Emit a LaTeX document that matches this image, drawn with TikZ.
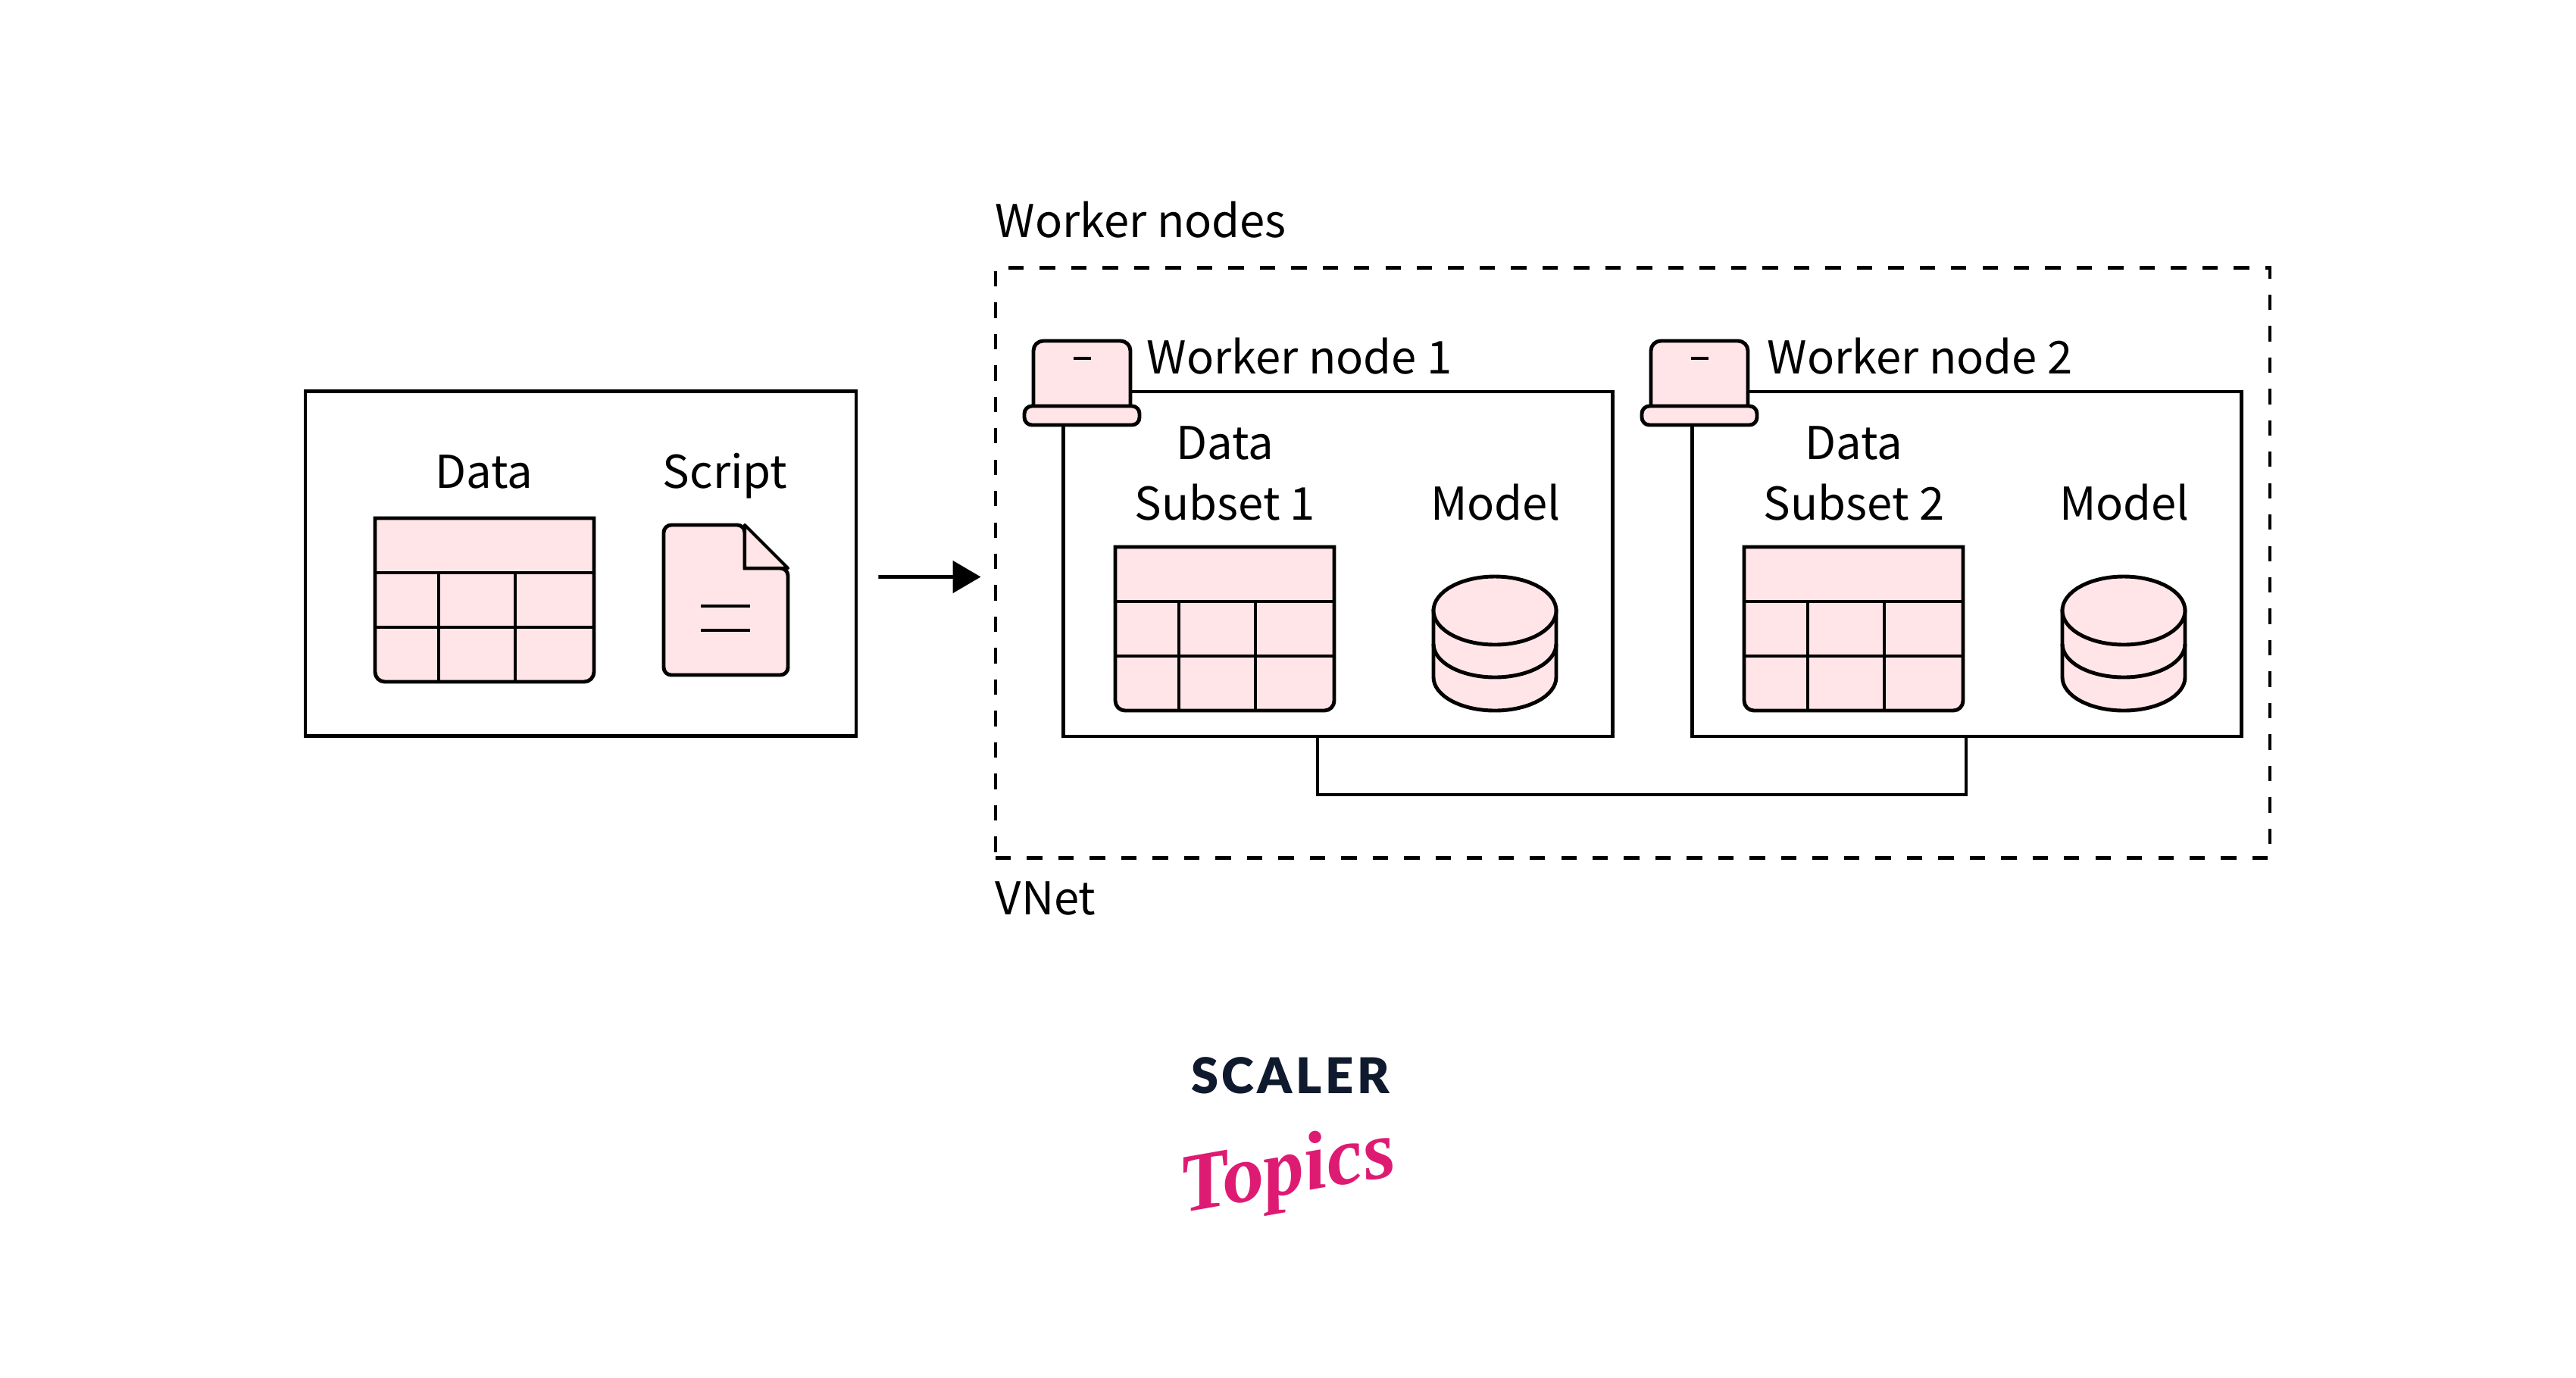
\documentclass[tikz,border=0pt]{standalone}
\usepackage{fontspec}
\setmainfont{Noto Sans CJK JP}
\newfontfamily\logofont[LetterSpace=7,BoldFont={Lato Black}]{Lato}
\newfontfamily\topicsfont{Liberation Serif}
\usetikzlibrary{arrows.meta}
\definecolor{iconpink}{HTML}{FFE5E7}
\definecolor{logonavy}{HTML}{0F1A2E}
\definecolor{logopink}{HTML}{DE1B73}
\tikzset{
  panel/.style={draw=black, line width=1.4pt, inner sep=0pt},
  icon/.style={draw=black, fill=iconpink, line width=1.4pt},
  gridline/.style={draw=black, line width=1.3pt},
  label/.style={font=\fontsize{17}{17}\selectfont, inner sep=0pt},
}
\begin{document}
\begin{tikzpicture}[y=-1cm]
  \useasboundingbox (0,0) rectangle (34,18.18);
  \fill [white] (0,0) rectangle (34,18.18);

  \node (input) [panel, minimum width=7.27cm, minimum height=4.55cm] at (7.665,7.44) {};
  \node (vnet) [panel, dash pattern=on 5.8pt off 6pt, minimum width=16.82cm, minimum height=7.79cm] at (21.55,7.43) {};
  \draw [line width=1.4pt, -{Triangle[length=.37cm,width=.42cm]}, shorten <=.27cm, shorten >=.17cm]
    ([yshift=-.175cm]input.east) -- ([yshift=-.185cm]vnet.west);

  \foreach \bx / \lx / \tx / \n in {0/0/0/1, 8.3/8.15/8.19/2} {
    \node (wbox\n) [panel, minimum width=7.25cm, minimum height=4.55cm] at (17.66+\bx,7.445) {};
    % laptop
    \draw [icon, rounded corners=.13cm] (13.64+\lx,5.36) -- (13.64+\lx,4.5) -- (14.92+\lx,4.5) -- (14.92+\lx,5.36);
    \draw [icon, rounded corners=.1cm] (13.52+\lx,5.36) -- (15.04+\lx,5.36) -- (15.04+\lx,5.61) -- (13.52+\lx,5.61) -- cycle;
    \draw [line width=1.3pt] (14.165+\lx,4.73) -- (14.395+\lx,4.73);
    \node (wname\n) [label, anchor=base west] at (15.13+\tx,4.93) {Worker node \n};
    \node (dname\n) [label, anchor=base] at (16.17+\bx,6.06) {Data};
    \node (sname\n) [label, anchor=base] at (16.17+\bx,6.86) {Subset \n};
    \node (mname\n) [label, anchor=base] at (19.74+\bx,6.86) {Model};
    % cylinder
    \draw [icon] (18.92+\bx,8.06) -- (18.92+\bx,8.94) arc (180:0:.81 and .44) -- (20.54+\bx,8.06) -- cycle;
    \draw [icon] (19.73+\bx,8.06) ellipse (.81 and .45);
    \draw [line width=1.4pt] (18.92+\bx,8.5) arc (180:0:.81 and .44);
  }

  \foreach \tx / \ty in {4.95/6.84, 14.72/7.22, 23.02/7.22} {
    \draw [icon, rounded corners=.13cm] (\tx,\ty+1) -- (\tx,\ty+2.16) -- (\tx+2.89,\ty+2.16) -- (\tx+2.89,\ty+1) [sharp corners] -- (\tx+2.89,\ty) -- (\tx,\ty) -- cycle;
    \draw [gridline] (\tx,\ty+.72) -- (\tx+2.89,\ty+.72);
    \draw [gridline] (\tx,\ty+1.44) -- (\tx+2.89,\ty+1.44);
    \draw [gridline] (\tx+.84,\ty+.72) -- (\tx+.84,\ty+2.16);
    \draw [gridline] (\tx+1.85,\ty+.72) -- (\tx+1.85,\ty+2.16);
  }

  % script page
  \draw [icon, rounded corners=.1cm] (9.83,7.5) -- (9.83,6.93) -- (8.76,6.93) -- (8.76,8.91) -- (10.4,8.91) -- (10.4,7.5) [sharp corners] -- cycle;
  \draw [icon, line width=1.2pt, line join=round] (9.83,6.93) -- (10.4,7.5) -- (9.83,7.5) -- cycle;
  \draw [line width=1.1pt] (9.25,8) -- (9.9,8);
  \draw [line width=1.1pt] (9.25,8.32) -- (9.9,8.32);

  \node (dataname) [label, anchor=base] at (6.39,6.44) {Data};
  \node (scriptname) [label, anchor=base] at (9.57,6.44) {Script};
  \node (vnetname) [label, anchor=base west] at (13.13,3.13) {Worker nodes};
  \node (vnetlow) [label, anchor=base west] at (13.13,12.07) {VNet};

  \coordinate (linkone) at (17.39,9.72);
  \coordinate (linktwo) at (25.95,9.72);
  \draw [line width=1.4pt] (linkone) -- (17.39,10.49) -- (25.95,10.49) -- (linktwo);

  \node (scaler) [inner sep=0pt, text=logonavy, font=\logofont\fontsize{18.5}{18.5}\selectfont\bfseries] at (17.03,14.2) {SCALER};
  \node (topics) [inner sep=0pt, rotate=10, text=logopink, font=\topicsfont\bfseries\itshape\fontsize{31}{31}\selectfont] at (17,15.5) {Topics};
\end{tikzpicture}
\end{document}
